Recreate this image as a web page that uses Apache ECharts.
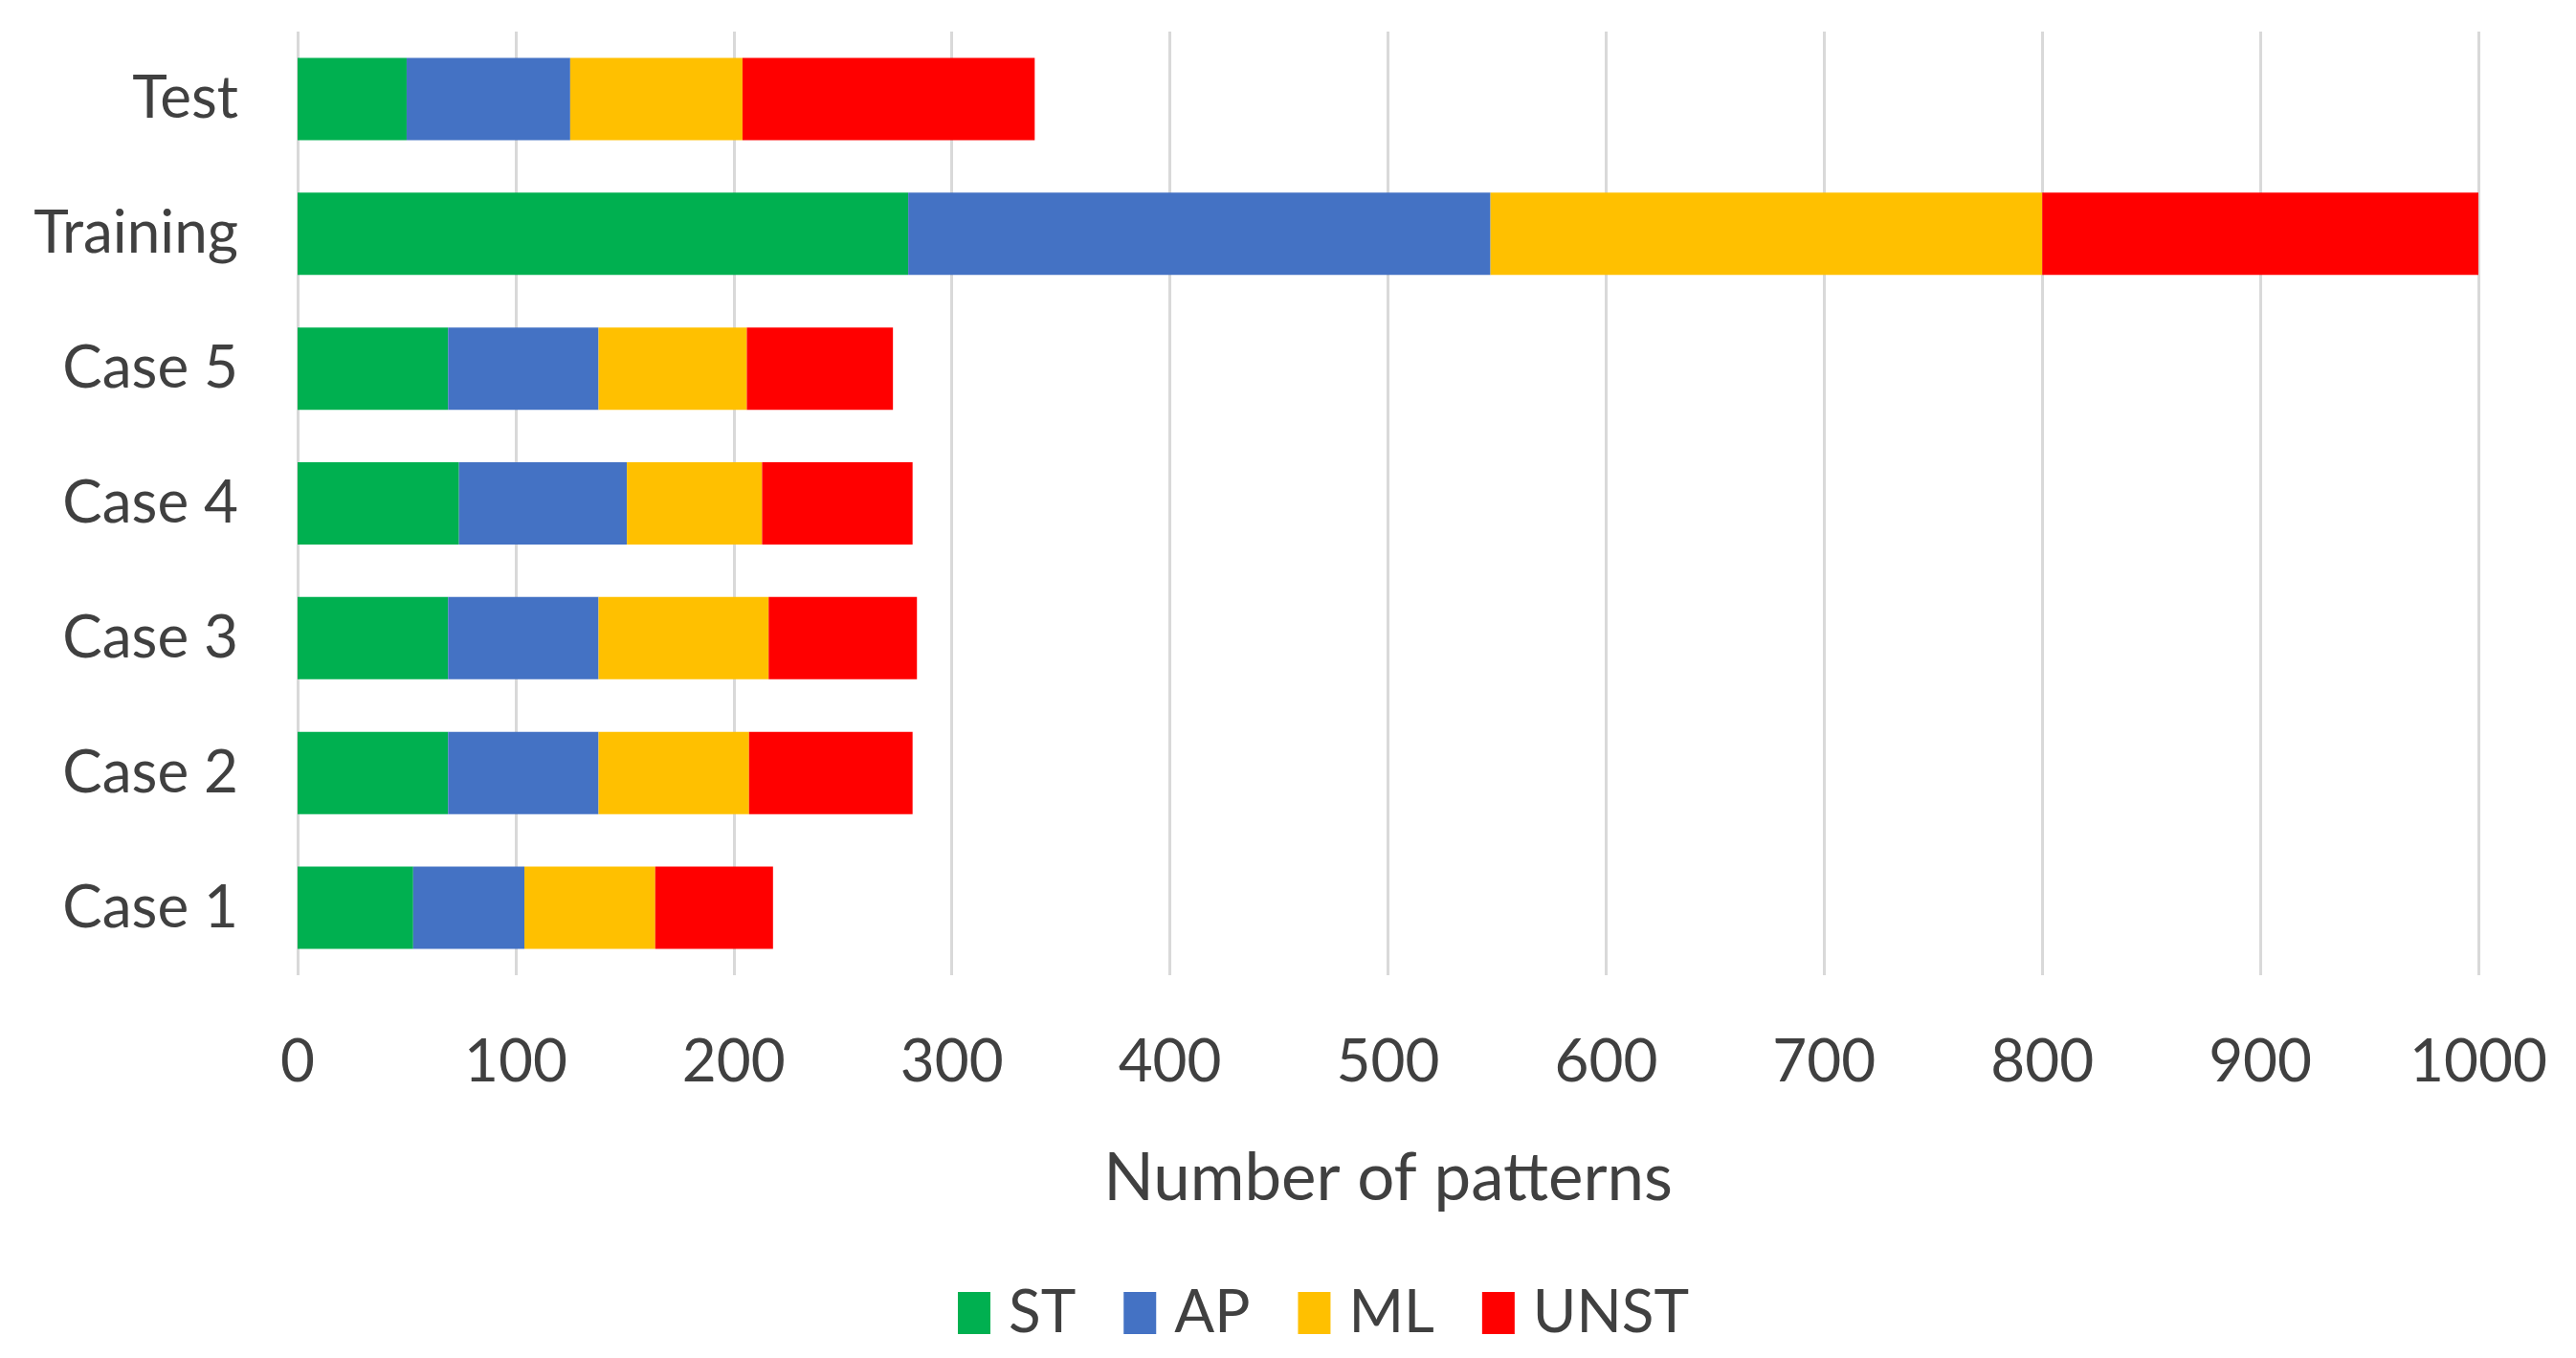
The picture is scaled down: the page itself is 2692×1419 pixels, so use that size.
<!DOCTYPE html>
<html>
<head>
<meta charset="utf-8">
<script src="https://cdn.jsdelivr.net/npm/echarts@6/dist/echarts.min.js"></script>
<style>
html,body{margin:0;padding:0;background:#fff;}
#chart{width:2692px;height:1419px;}
</style>
</head>
<body>
<div id="chart"></div>
<script>
const categories = ['Case 1', 'Case 2', 'Case 3', 'Case 4', 'Case 5', 'Training', 'Test'];
const seriesNames = ['ST', 'AP', 'ML', 'UNST'];
const ST = [53, 69, 69, 74, 69, 280, 50];
const AP = [51, 69, 69, 77, 69, 267, 75];
const ML = [60, 69, 78, 62, 68, 253, 79];
const UNST = [54, 75, 68, 69, 67, 200, 134];
const xTicks = [0, 100, 200, 300, 400, 500, 600, 700, 800, 900, 1000];

const colors = ['#00b050', '#4472c4', '#ffc000', '#ff0000'];
const values = [ST, AP, ML, UNST];
const textColor = '#404040';
const fontFamily = 'Lato';

const chart = echarts.init(document.getElementById('chart'), null, {renderer: 'canvas'});
chart.setOption({
  backgroundColor: '#ffffff',
  animation: false,
  grid: {left: 311, right: 102, top: 33, bottom: 400, containLabel: false},
  legend: {
    data: seriesNames,
    left: 1001,
    top: 1341,
    padding: 0,
    itemWidth: 34,
    itemHeight: 44,
    itemGap: 50,
    icon: 'rect',
    textStyle: {fontSize: 62, color: textColor, fontFamily: fontFamily, padding: [0, 0, 0, 14]}
  },
  xAxis: {
    type: 'value',
    min: xTicks[0],
    max: xTicks[xTicks.length - 1],
    interval: xTicks[1] - xTicks[0],
    name: 'Number of patterns',
    nameLocation: 'middle',
    nameGap: 178,
    nameTextStyle: {fontSize: 69, color: textColor, fontFamily: fontFamily},
    axisLine: {show: false},
    axisTick: {show: false},
    axisLabel: {fontSize: 62, color: textColor, fontFamily: fontFamily, margin: 60,
      formatter: v => String(v)},
    splitLine: {show: true, lineStyle: {color: '#d9d9d9', width: 3}}
  },
  yAxis: {
    type: 'category',
    data: categories,
    axisLine: {show: false},
    axisTick: {show: false},
    axisLabel: {fontSize: 62, color: textColor, fontFamily: fontFamily, margin: 62},
    splitLine: {show: false}
  },
  series: seriesNames.map((name, i) => ({
    name: name,
    type: 'bar',
    stack: 'total',
    data: values[i],
    barWidth: 86,
    itemStyle: {color: colors[i]}
  }))
});
</script>
</body>
</html>
